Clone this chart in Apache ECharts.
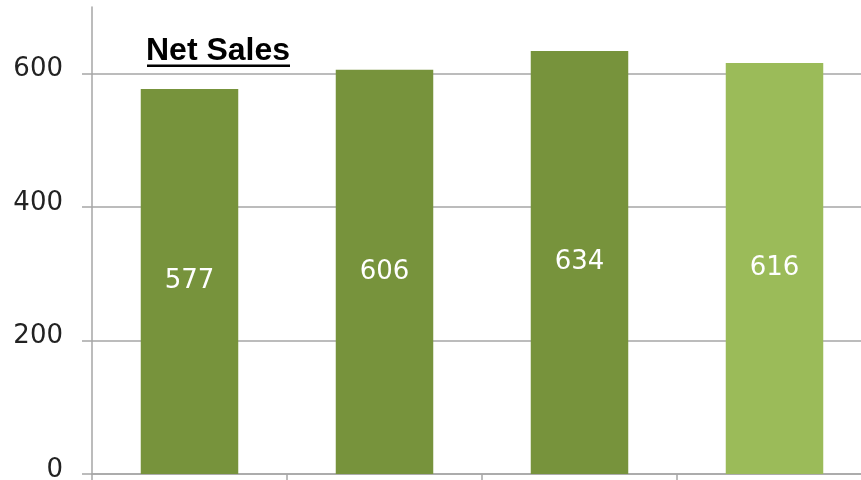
<!DOCTYPE html>
<html>
<head>
<meta charset="utf-8">
<script src="https://cdn.jsdelivr.net/npm/echarts@6/dist/echarts.min.js"></script>
<style>
html,body{margin:0;padding:0;background:#fff;}
#c{width:861px;height:480px;}
</style>
</head>
<body>
<div id="c"></div>
<script>
const categories = ['FY2014', 'FY2015', 'FY2016', 'FY2017'];
const netSales = [577, 606, 634, 616];
const barColors = ['#77933C', '#77933C', '#77933C', '#9BBB59'];
const yTicks = [0, 200, 400, 600];
const titleText = 'Net Sales';

const chart = echarts.init(document.getElementById('c'), null, {renderer: 'canvas'});
chart.setOption({
  animation: false,
  backgroundColor: '#ffffff',
  title: {
    text: titleText,
    left: 146,
    top: 35,
    padding: 0,
    textStyle: {fontFamily: 'Liberation Sans', fontWeight: 'bold', fontSize: 32, color: '#000'}
  },
  graphic: [{
    type: 'rect',
    shape: {x: 147, y: 64.5, width: 143, height: 2.5},
    style: {fill: '#000'},
    silent: true
  }],
  grid: {left: 92, right: -11, top: 7, bottom: 6, containLabel: false, outerBoundsMode: 'none'},
  xAxis: {
    type: 'category',
    data: categories,
    axisLine: {show: true, lineStyle: {color: '#a6a6a6', width: 1.5}},
    axisTick: {show: true, length: 7, alignWithLabel: false, lineStyle: {color: '#a6a6a6', width: 1.5}},
    axisLabel: {show: false}
  },
  yAxis: {
    type: 'value',
    min: 0,
    max: 700,
    interval: 200,
    axisLine: {show: true, lineStyle: {color: '#a6a6a6', width: 1.5}},
    axisTick: {show: true, length: 10, customValues: yTicks, lineStyle: {color: '#a6a6a6', width: 1.5}},
    axisLabel: {
      show: true, customValues: yTicks, margin: 29,
      formatter: v => '{a|' + v + '}',
      rich: {a: {padding: [0, 0, 8, 0], fontFamily: 'DejaVu Sans', fontSize: 26, color: '#222'}},
      fontFamily: 'DejaVu Sans', fontSize: 26, color: '#222'
    },
    splitLine: {show: true, lineStyle: {color: '#a6a6a6', width: 1.5}}
  },
  series: [{
    type: 'bar',
    barWidth: '50%',
    data: netSales.map((v, i) => ({value: v, itemStyle: {color: barColors[i]}})),
    label: {
      show: true,
      position: 'inside',
      fontFamily: 'DejaVu Sans',
      fontSize: 26,
      color: '#ffffff'
    }
  }]
});
</script>
</body>
</html>
